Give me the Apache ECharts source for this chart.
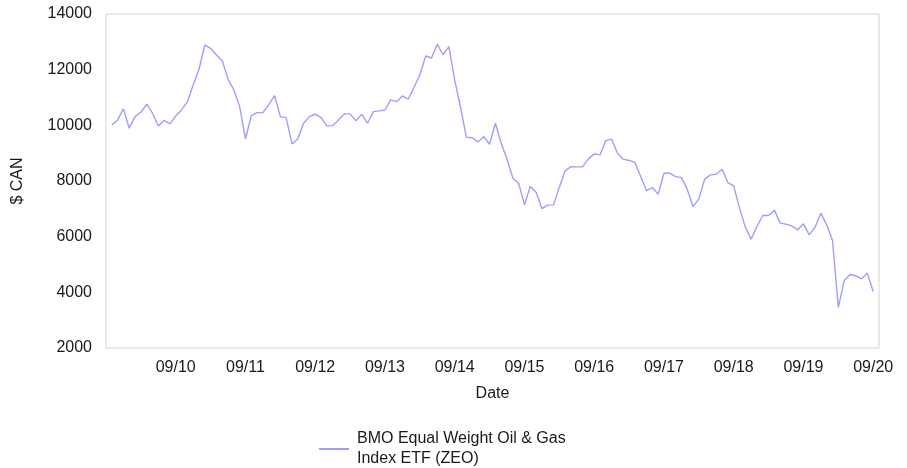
<!DOCTYPE html>
<html>
<head>
<meta charset="utf-8">
<script src="https://cdn.jsdelivr.net/npm/echarts@6/dist/echarts.min.js"></script>
<style>
  html, body { margin: 0; padding: 0; background: #fff; }
  #chart { width: 907px; height: 468px; }
</style>
</head>
<body>
<div id="chart"></div>
<script>
// Monthly closing value of a $10,000 investment, Oct 2009 – Sep 2020
const seriesName = 'BMO Equal Weight Oil & Gas\nIndex ETF (ZEO)';
const zeoValues = [
  10015, 10195, 10590, 9897, 10313, 10470, 10758, 10435, 9979, 10183, 10051, 10338,
  10554, 10850, 11451, 12015, 12887, 12768, 12528, 12324, 11656, 11272, 10672, 9510,
  10350, 10457, 10457, 10745, 11068, 10313, 10277, 9333, 9520, 10076, 10313, 10399,
  10277, 9979, 9990, 10195, 10410, 10410, 10159, 10399, 10076, 10493, 10520, 10550,
  10913, 10851, 11056, 10937, 11368, 11810, 12492, 12420, 12912, 12528, 12826, 11620,
  10650, 9573, 9559, 9405, 9595, 9322, 10076, 9358, 8784, 8102, 7922, 7143,
  7800, 7599, 7010, 7132, 7143, 7779, 8364, 8518, 8507, 8507, 8795, 8974,
  8938, 9451, 9502, 8999, 8784, 8738, 8666, 8159, 7656, 7764, 7527, 8280,
  8280, 8159, 8123, 7706, 7082, 7348, 8066, 8220, 8245, 8425, 7944, 7825,
  7024, 6343, 5912, 6365, 6759, 6759, 6953, 6486, 6450, 6389, 6246, 6461,
  6066, 6343, 6845, 6425, 5862, 3456, 4415, 4641, 4594, 4487, 4691, 4031
];
// September of each year, as month offsets from the first observation
const tickMonths = [11, 23, 35, 47, 59, 71, 83, 95, 107, 119, 131];
const tickLabels = ['09/10', '09/11', '09/12', '09/13', '09/14', '09/15', '09/16', '09/17', '09/18', '09/19', '09/20'];
const yTicks = [2000, 4000, 6000, 8000, 10000, 12000, 14000];

const points = zeoValues.map((v, i) => [i, v]);
const labelFor = {};
tickMonths.forEach((m, k) => { labelFor[m] = tickLabels[k]; });

const font = 'Arial, "Liberation Sans", sans-serif';
const textColor = '#1a1a1a';
const lineColor = '#9e9eff';
const chart = echarts.init(document.getElementById('chart'), null, { renderer: 'canvas' });
chart.setOption({
  animation: false,
  backgroundColor: '#ffffff',
  grid: {
    left: 106, right: 28, top: 14, bottom: 120,
    show: true, borderColor: '#d4d4d4', borderWidth: 1, backgroundColor: 'transparent'
  },
  xAxis: {
    type: 'value',
    min: -1,
    max: 132,
    name: 'Date',
    nameLocation: 'middle',
    nameGap: 38,
    nameTextStyle: { fontFamily: font, fontSize: 16, color: textColor },
    axisLine: { show: false },
    axisTick: { show: false },
    splitLine: { show: false },
    axisLabel: {
      customValues: tickMonths,
      formatter: v => labelFor[v] || '',
      fontFamily: font, fontSize: 16, color: textColor, margin: 12
    }
  },
  yAxis: {
    type: 'value',
    min: 2000,
    max: 14000,
    interval: 2000,
    name: '$ CAN',
    nameLocation: 'middle',
    nameGap: 80,
    nameRotate: 90,
    nameTextStyle: { fontFamily: font, fontSize: 16, color: textColor },
    axisLine: { show: false },
    axisTick: { show: false },
    splitLine: { show: false },
    axisLabel: {
      customValues: yTicks,
      formatter: v => String(v),
      fontFamily: font, fontSize: 16, color: textColor, margin: 14
    }
  },
  legend: {
    show: true,
    left: 314,
    top: 424,
    itemWidth: 30,
    itemHeight: 2,
    itemGap: 8,
    icon: 'rect',
    textStyle: { fontFamily: font, fontSize: 16, color: textColor, lineHeight: 20, padding: [0, 0, 0, 3] }
  },
  series: [{
    name: seriesName,
    type: 'line',
    data: points,
    symbol: 'none',
    itemStyle: { color: lineColor },
    lineStyle: { color: lineColor, width: 1.4 }
  }]
});
</script>
</body>
</html>
